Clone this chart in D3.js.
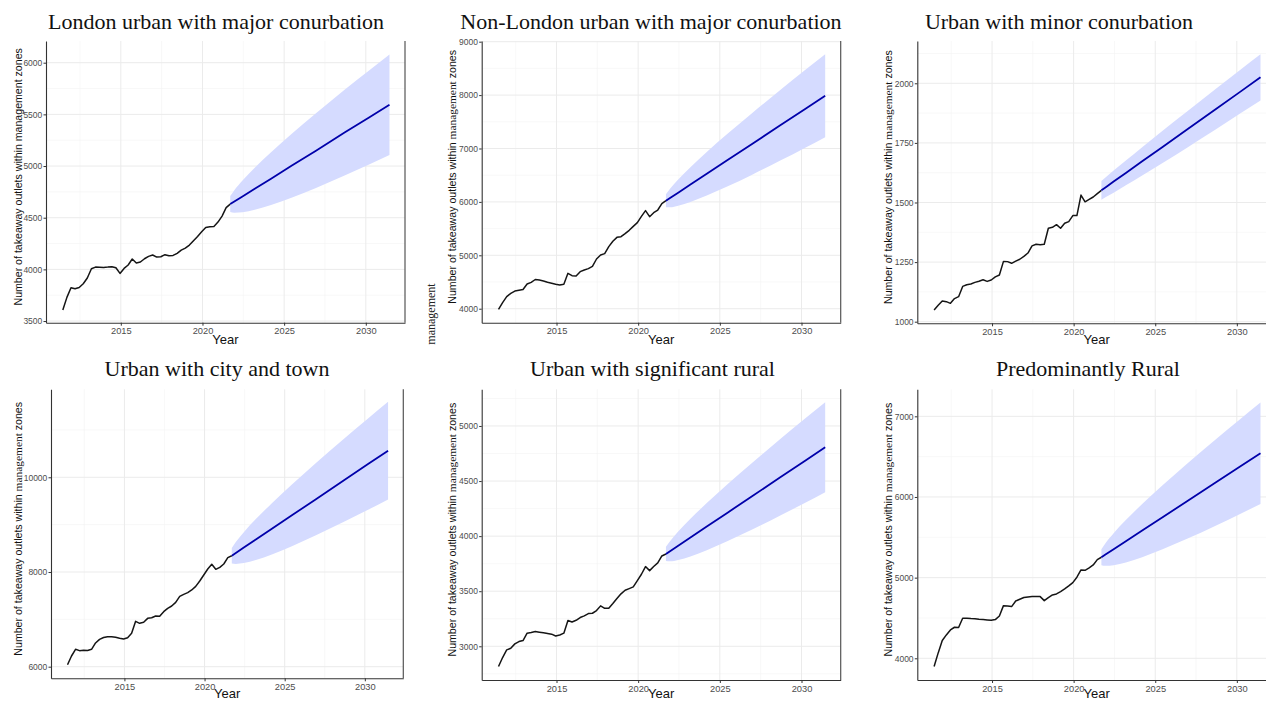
<!DOCTYPE html>
<html><head><meta charset="utf-8">
<script src="https://cdn.jsdelivr.net/npm/d3@7"></script>
<style>body{margin:0;background:#fff} svg{display:block}</style>
</head><body><svg id="c" width="1266" height="702"></svg>
<script>
// ---------- DATA ----------
const titles = [
  "London urban with major conurbation",
  "Non-London urban with major conurbation",
  "Urban with minor conurbation",
  "Urban with city and town",
  "Urban with significant rural",
  "Predominantly Rural"
];
const xTicks = [2015, 2020, 2025, 2030];
const xMinor = [2012.5, 2017.5, 2022.5, 2027.5];
const yTicks = [
  [3500, 4000, 4500, 5000, 5500, 6000],
  [4000, 5000, 6000, 7000, 8000, 9000],
  [1000, 1250, 1500, 1750, 2000],
  [6000, 8000, 10000],
  [3000, 3500, 4000, 4500, 5000],
  [4000, 5000, 6000, 7000]
];
const yMinor = [
  [3750, 4250, 4750, 5250, 5750],
  [4500, 5500, 6500, 7500, 8500],
  [1125, 1375, 1625, 1875, 2125],
  [7000, 9000, 11000],
  [2750, 3250, 3750, 4250, 4750, 5250],
  [4500, 5500, 6500]
];
// quarterly observation times (historical)
const histYears = [2011.45,2011.70,2011.95,2012.20,2012.45,2012.70,2012.95,2013.20,2013.45,2013.70,
  2013.95,2014.20,2014.45,2014.70,2014.95,2015.20,2015.45,2015.70,2015.95,2016.20,
  2016.45,2016.70,2016.95,2017.20,2017.45,2017.70,2017.95,2018.20,2018.45,2018.70,
  2018.95,2019.20,2019.45,2019.70,2019.95,2020.20,2020.45,2020.70,2020.95,2021.20,2021.45];
const histLondon = [3606,3729,3822,3812,3825,3861,3916,4006,4022,4021,4019,4022,4026,4016,3961,4009,4042,4100,4061,4071,
  4103,4126,4139,4119,4122,4142,4132,4135,4155,4187,4206,4235,4277,4319,4364,4406,4413,4416,4458,4516,4597];
const histNonLondon = [3988,4113,4225,4288,4331,4347,4360,4463,4494,4547,4538,4519,4494,4475,4457,4444,4457,4662,4619,4612,
  4694,4725,4750,4793,4931,5006,5031,5162,5262,5336,5349,5405,5468,5542,5611,5730,5836,5723,5798,5848,5967];
const histMinor = [1049,1069,1087,1084,1077,1097,1105,1148,1155,1158,1165,1170,1176,1169,1175,1188,1196,1253,1252,1245,
  1254,1262,1274,1288,1318,1325,1323,1325,1392,1396,1407,1392,1413,1420,1445,1445,1531,1503,1513,1523,1537];
const histCityTown = [6040,6226,6367,6339,6346,6342,6367,6501,6578,6617,6634,6631,6620,6599,6585,6613,6705,6958,6916,6937,
  7021,7035,7071,7064,7162,7233,7282,7359,7486,7528,7564,7620,7697,7810,7937,8063,8162,8056,8099,8169,8303];
const histSigRural = [2816,2898,2967,2982,3022,3043,3052,3119,3125,3134,3128,3122,3116,3110,3094,3103,3119,3234,3221,3236,
  3261,3276,3297,3300,3324,3367,3345,3345,3388,3433,3476,3509,3524,3539,3596,3654,3724,3687,3724,3757,3820];
const histRural = [3898,4067,4220,4290,4352,4385,4381,4496,4496,4492,4490,4484,4480,4476,4472,4480,4525,4653,4649,4641,
  4711,4732,4753,4761,4765,4765,4765,4715,4753,4786,4798,4827,4860,4897,4938,5005,5095,5091,5120,5157,5223];
// forecast times
const fcYears = [2021.70,2021.95,2022.45,2023.20,2024.20,2025.45,2026.95,2028.70,2030.20,2031.45];
const fcMeanLondon = [4632,4657,4706,4780,4878,5002,5149,5324,5470,5593];
const fcLoLondon   = [4555,4548,4552,4576,4623,4694,4788,4909,5014,5106];
const fcHiLondon   = [4709,4766,4860,4984,5134,5310,5511,5739,5925,6080];
const fcMeanNonLondon = [6022,6072,6173,6325,6526,6779,7081,7434,7737,7989];
const fcLoNonLondon   = [5899,5899,5928,6000,6119,6287,6505,6773,7011,7212];
const fcHiNonLondon   = [6145,6246,6419,6650,6934,7270,7657,8096,8464,8766];
const fcMeanMinor = [1551,1563,1588,1624,1673,1733,1806,1891,1964,2025];
const fcLoMinor   = [1512,1522,1541,1572,1613,1666,1730,1806,1873,1928];
const fcHiMinor   = [1590,1605,1634,1676,1732,1801,1882,1976,2056,2122];
const fcMeanCityTown = [8344,8401,8515,8685,8913,9197,9538,9936,10278,10562];
const fcLoCityTown   = [8181,8170,8189,8254,8372,8545,8774,9059,9313,9531];
const fcHiCityTown   = [8507,8631,8841,9117,9453,9849,10303,10814,11242,11593];
const fcMeanSigRural = [3838,3863,3913,3987,4087,4211,4360,4534,4683,4807];
const fcLoSigRural   = [3774,3772,3784,3816,3873,3953,4057,4187,4301,4399];
const fcHiSigRural   = [3903,3954,4042,4158,4300,4469,4662,4881,5065,5215];
const fcMeanRural = [5253,5286,5352,5451,5584,5749,5947,6179,6377,6542];
const fcLoRural   = [5154,5146,5154,5189,5254,5352,5481,5644,5789,5914];
const fcHiRural   = [5352,5426,5551,5714,5913,6146,6413,6713,6964,7170];

const yTitle = ["Number of takeaway outlets within ", "management", " zones"];

// ---------- LAYOUT ----------
const xDomain = [2010.42, 2032.4];
const layout = [
  {l:46,    r:405,   t:41,    b:322.7, yd:[3484,6210],  tx:216,  ty:29,  yx:21.5, xt:343.5, rightLine:true,  serif:false},
  {l:481.7, r:840.7, t:41,    b:322.7, yd:[3738,9013],  tx:651,  ty:29,  yx:456,  xt:343.5, rightLine:true,  serif:true},
  {l:917.3, r:1276,  t:41,    b:323.3, yd:[993.3,2177.4], tx:1059, ty:29, yx:892, xt:343.5, rightLine:false, serif:true},
  {l:51,    r:403.3, t:389.3, b:678.3, yd:[5755,11858], tx:217,  ty:376, yx:21.5, xt:698,   rightLine:true,  serif:true},
  {l:481.7, r:840.7, t:389.3, b:680,   yd:[2694,5333],  tx:652.5,ty:376, yx:456,  xt:698,   rightLine:true,  serif:true},
  {l:917.3, r:1276,  t:389.3, b:680,   yd:[3731,7335],  tx:1088, ty:376, yx:892,  xt:698,   rightLine:false, serif:true}
];
const series = [
  [histLondon, fcMeanLondon, fcLoLondon, fcHiLondon],
  [histNonLondon, fcMeanNonLondon, fcLoNonLondon, fcHiNonLondon],
  [histMinor, fcMeanMinor, fcLoMinor, fcHiMinor],
  [histCityTown, fcMeanCityTown, fcLoCityTown, fcHiCityTown],
  [histSigRural, fcMeanSigRural, fcLoSigRural, fcHiSigRural],
  [histRural, fcMeanRural, fcLoRural, fcHiRural]
];

const svg = d3.select("#c");
const SANS = "'Liberation Sans', Arial, sans-serif";
const SERIF = "'Liberation Serif', 'Times New Roman', serif";

layout.forEach((L, k) => {
  const g = svg.append("g");
  const x = d3.scaleLinear().domain(xDomain).range([L.l, L.r]);
  const y = d3.scaleLinear().domain(L.yd).range([L.b, L.t]);
  const [hist, mean, lo, hi] = series[k];

  // grid
  const grid = g.append("g");
  grid.selectAll(".ymin").data(yMinor[k]).join("line")
    .attr("x1", L.l).attr("x2", L.r).attr("y1", d => y(d)).attr("y2", d => y(d))
    .attr("stroke", "#f3f3f3").attr("stroke-width", 0.6);
  grid.selectAll(".xmin").data(xMinor).join("line")
    .attr("y1", L.t).attr("y2", L.b).attr("x1", d => x(d)).attr("x2", d => x(d))
    .attr("stroke", "#f3f3f3").attr("stroke-width", 0.6);
  grid.selectAll(".ymaj").data(yTicks[k]).join("line")
    .attr("x1", L.l).attr("x2", L.r).attr("y1", d => y(d)).attr("y2", d => y(d))
    .attr("stroke", "#ebebeb").attr("stroke-width", 1);
  grid.selectAll(".xmaj").data(xTicks).join("line")
    .attr("y1", L.t).attr("y2", L.b).attr("x1", d => x(d)).attr("x2", d => x(d))
    .attr("stroke", "#ebebeb").attr("stroke-width", 1);

  // band
  const fc = fcYears.map((t, i) => ({t, m: mean[i], lo: lo[i], hi: hi[i]}));
  g.append("path").datum(fc)
    .attr("fill", "#D5DBFF")
    .attr("d", d3.area().x(d => x(d.t)).y0(d => y(d.lo)).y1(d => y(d.hi)).curve(d3.curveMonotoneX));
  // historical (joined to the first forecast point)
  const h = histYears.map((t, i) => ({t, v: hist[i]}));
  h.push({t: fcYears[0], v: mean[0]});
  g.append("path").datum(h)
    .attr("fill", "none").attr("stroke", "#151515").attr("stroke-width", 1.5).attr("stroke-linejoin", "round")
    .attr("d", d3.line().x(d => x(d.t)).y(d => y(d.v)));
  // forecast mean
  g.append("path").datum(fc)
    .attr("fill", "none").attr("stroke", "#0000AA").attr("stroke-width", 1.8)
    .attr("d", d3.line().x(d => x(d.t)).y(d => y(d.m)));

  // axes
  const ax = g.append("g").attr("transform", `translate(0,${L.b})`)
    .call(d3.axisBottom(x).tickValues(xTicks).tickFormat(d3.format("d")).tickSize(3).tickSizeOuter(0).tickPadding(2));
  const ay = g.append("g").attr("transform", `translate(${L.l},0)`)
    .call(d3.axisLeft(y).tickValues(yTicks[k]).tickFormat(d3.format("d")).tickSize(2.5).tickSizeOuter(0).tickPadding(1.2));
  [ax, ay].forEach(a => {
    a.select(".domain").attr("stroke", "#333").attr("stroke-width", 1.1);
    a.selectAll(".tick line").attr("stroke", "#333");
    a.selectAll(".tick text").attr("fill", "#4d4d4d").style("font-family", SANS);
  });
  ax.selectAll(".tick text").style("font-size", "9.3px");
  ay.selectAll(".tick text").style("font-size", "8.5px");
  if (L.rightLine) {
    g.append("line").attr("x1", L.r).attr("x2", L.r).attr("y1", L.t).attr("y2", L.b)
      .attr("stroke", "#555").attr("stroke-width", 1.2);
  }

  // titles
  g.append("text").attr("x", L.tx).attr("y", L.ty).attr("text-anchor", "middle")
    .style("font-family", SERIF).style("font-size", "22px").attr("fill", "#111").text(titles[k]);
  g.append("text").attr("x", (L.l + L.r) / 2).attr("y", L.xt).attr("text-anchor", "middle")
    .style("font-family", SANS).style("font-size", "13px").attr("fill", "#111")
    .text("Year");
  const cy = (L.t + L.b) / 2 - 5;
  const yt = g.append("text").attr("transform", `translate(${L.yx},${cy}) rotate(-90)`)
    .attr("text-anchor", "middle").style("font-family", SANS).style("font-size", "10.6px").attr("fill", "#111");
  yt.append("tspan").text(yTitle[0]);
  yt.append("tspan").style("font-family", L.serif ? SERIF : SANS).style("font-size", L.serif ? "11.4px" : "10.6px").text(yTitle[1]);
  yt.append("tspan").text(yTitle[2]);
});

// stray label fragment at left of second panel
svg.append("text").attr("transform", "translate(435,314) rotate(-90)").attr("text-anchor", "middle")
  .style("font-family", SERIF).style("font-size", "12px").attr("fill", "#222").text("management");
</script></body></html>
